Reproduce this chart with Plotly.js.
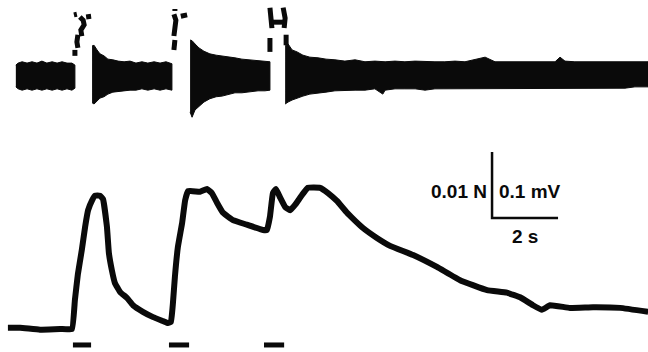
<!DOCTYPE html>
<html>
<head>
<meta charset="utf-8">
<script src="https://cdn.plot.ly/plotly-3.0.1.min.js"></script>
<style>html,body{margin:0;padding:0;background:#fff;}#chart{width:648px;height:352px;}</style>
</head>
<body>
<div id="chart"></div>
<script>
// ---- Force trace (time in s, force in mN) ----
var forceTime = [0.24,0.61,1.21,1.82,2.18,2.27,2.36,2.48,2.58,2.67,2.79,2.88,3.03,3.12,3.24,3.30,3.39,3.48,3.64,3.85,4.03,4.33,4.64,4.94,5.09,5.18,5.24,5.30,5.39,5.52,5.61,5.70,6.06,6.27,6.42,6.58,6.76,7.06,7.48,7.97,8.09,8.18,8.27,8.36,8.48,8.64,8.79,8.94,9.15,9.33,9.70,9.94,10.21,10.52,11.00,11.42,11.82,12.52,13.24,13.94,14.76,15.36,15.76,16.15,16.42,16.67,17.27,17.97,18.79,19.64];
var forceMN   = [0.2,0.2,-0.1,0.0,0.0,4.4,8.3,12.0,15.5,18.0,19.5,20.2,20.2,19.7,15.5,11.5,8.9,7.0,5.6,4.7,3.6,2.6,1.8,1.2,0.9,1.1,3.9,7.9,12.4,16.1,19.5,20.9,20.8,21.2,20.6,19.1,17.6,16.5,15.8,15.0,15.0,17.0,20.6,21.2,20.0,18.5,18.0,18.8,20.3,21.4,21.4,20.6,19.4,17.6,15.3,13.8,12.6,11.2,9.4,7.4,5.9,5.5,4.8,3.6,2.9,3.6,3.2,3.3,3.2,2.6];

// ---- EMG envelope segments (time s, upper / lower edge in µV) ----
var emgA_t  = [0.48,0.55,0.67,0.82,0.97,1.12,1.27,1.42,1.58,1.73,1.88,2.03,2.18,2.27];
var emgA_hi = [15,18,20,18,20,18,21,18,20,18,20,18,18,15];
var emgA_lo = [-18,-21,-23,-21,-23,-21,-23,-21,-23,-21,-23,-21,-23,-20];

var emgB_t  = [2.79,2.85,2.94,3.03,3.15,3.27,3.42,3.58,3.76,3.94,4.12,4.30,4.48,4.67,4.85,5.03,5.21];
var emgB_hi = [44,45,38,32,29,24,23,21,20,21,18,20,18,20,18,20,17];
var emgB_lo = [-42,-44,-39,-35,-33,-29,-26,-24,-24,-23,-23,-21,-23,-21,-23,-21,-23];

var emgC_t  = [5.76,5.82,5.91,6.03,6.18,6.36,6.55,6.73,6.91,7.12,7.33,7.58,7.82,8.03,8.18];
var emgC_hi = [53,52,47,41,36,32,30,29,27,26,24,23,21,21,20];
var emgC_lo = [-56,-64,-53,-47,-41,-36,-33,-32,-30,-27,-27,-26,-24,-24,-23];

var emgD_t  = [8.64,8.73,8.85,9.00,9.18,9.39,9.64,9.88,10.15,10.45,10.76,11.06,11.36,11.60,11.67,11.97,12.27,12.58,12.88,13.18,13.48,13.79,14.09,14.39,14.70,15.00,15.30,15.61,15.91,16.21,16.52,16.82,16.97,17.12,17.42,17.73,18.03,18.33,18.64,18.94,19.24,19.64];
var emgD_hi = [44,47,38,35,30,27,26,24,23,21,23,20,21,20,20,21,20,21,20,20,20,21,20,23,27,20,20,21,20,20,21,20,27,21,20,20,21,20,20,21,20,20];
var emgD_lo = [-44,-41,-38,-35,-32,-29,-27,-26,-24,-23,-23,-23,-21,-29,-23,-21,-21,-21,-23,-21,-21,-21,-20,-21,-21,-20,-21,-20,-21,-20,-20,-21,-20,-20,-20,-21,-20,-20,-20,-20,-18,-18];

// ---- Stimulus artefacts (time s, µV), null separates pieces ----
var artT  = [2.24,2.33,null,2.42,2.52,2.55,2.45,2.48,null,2.36,2.33,2.36,null,2.27,2.27,null,2.61,2.76,null,
             5.30,5.30,null,5.27,5.33,5.30,5.27,null,5.30,5.27,null,5.48,5.67,null,
             8.18,8.21,8.24,null,8.58,8.64,8.61,null,8.24,8.58,null,8.18,8.18,null,8.67,8.67];
var artUV = [91,92,null,88,83,76,68,59,null,61,50,41,null,38,29,null,88,89,null,
             100,97,null,92,83,71,59,null,53,38,null,89,91,null,
             102,86,71,null,102,86,71,null,80,80,null,56,35,null,61,45];

// ---- Stimulation periods (start, end in s) ----
var stimStart = [2.21,5.12,8.00];
var stimEnd   = [2.76,5.73,8.61];

// ---- Scale bar (mN and s) ----
var barT0 = 14.91, barT1 = 16.91, barF0 = 16.82, barF1 = 26.82;
var labelForce = "0.01 N", labelEmg = "0.1 mV", labelTime = "2 s";

var ink = "#0a0a0a";
var traces = [];
function band(t, hi, lo) {
  var x = t.concat(t.slice().reverse());
  var y = hi.concat(lo.slice().reverse());
  return {x: x, y: y, yaxis: "y2", mode: "lines", fill: "toself", fillcolor: ink,
          line: {color: ink, width: 1}, hoverinfo: "skip", showlegend: false};
}
traces.push(band(emgA_t, emgA_hi, emgA_lo));
traces.push(band(emgB_t, emgB_hi, emgB_lo));
traces.push(band(emgC_t, emgC_hi, emgC_lo));
traces.push(band(emgD_t, emgD_hi, emgD_lo));
traces.push({x: artT, y: artUV, yaxis: "y2", mode: "lines", connectgaps: false, line: {color: ink, width: 5},
             showlegend: false, hoverinfo: "skip"});
traces.push({x: forceTime, y: forceMN, mode: "lines", line: {color: ink, width: 6, shape: "spline", smoothing: 0.3},
             showlegend: false, hoverinfo: "skip"});
var sx = [], sy = [];
for (var i = 0; i < stimStart.length; i++) {
  sx.push(stimStart[i], stimEnd[i], null);
  sy.push(-2.42, -2.42, null);
}
traces.push({x: sx, y: sy, mode: "lines", line: {color: ink, width: 5}, showlegend: false, hoverinfo: "skip"});
traces.push({x: [barT0, barT0, barT1], y: [barF1, barF0, barF0], mode: "lines",
             line: {color: ink, width: 2.5}, showlegend: false, hoverinfo: "skip"});

var font = {family: "Liberation Sans, Arial, sans-serif", size: 19, color: ink};
var layout = {
  width: 648, height: 352,
  margin: {l: 0, r: 0, t: 0, b: 0},
  paper_bgcolor: "#fff", plot_bgcolor: "#fff",
  xaxis: {range: [0, 19.636], visible: false, fixedrange: true},
  yaxis: {range: [-3.485, 49.85], visible: false, fixedrange: true},
  yaxis2: {range: [-419.7, 113.6], overlaying: "y", visible: false, fixedrange: true},
  annotations: [
    {x: barT0 - 0.1, y: 20.8, xref: "x", yref: "y", text: "<b>" + labelForce + "</b>", showarrow: false, xanchor: "right", yanchor: "middle", font: font},
    {x: barT0 + 0.15, y: 20.8, xref: "x", yref: "y", text: "<b>" + labelEmg + "</b>", showarrow: false, xanchor: "left", yanchor: "middle", font: font},
    {x: (barT0 + barT1) / 2, y: 14.0, xref: "x", yref: "y", text: "<b>" + labelTime + "</b>", showarrow: false, xanchor: "center", yanchor: "middle", font: font}
  ]
};
Plotly.newPlot("chart", traces, layout, {staticPlot: true, displayModeBar: false});
</script>
</body>
</html>
